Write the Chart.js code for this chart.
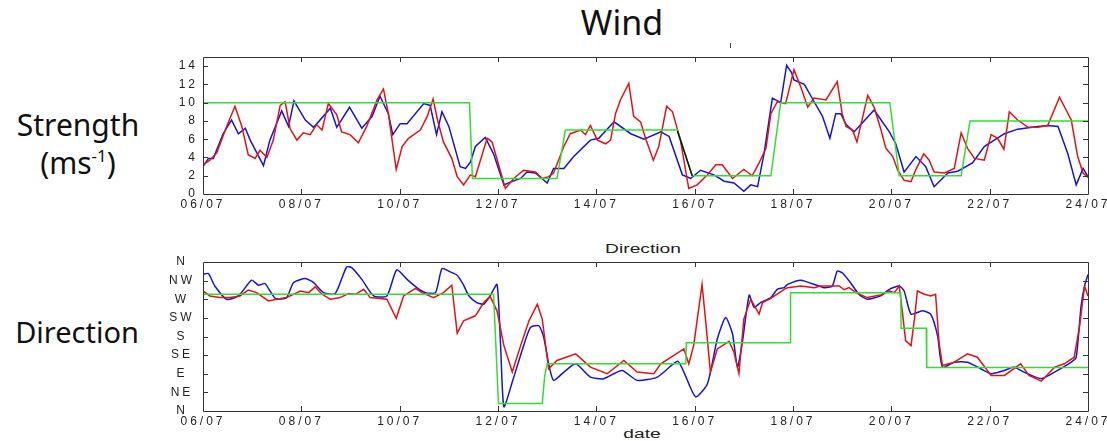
<!DOCTYPE html>
<html lang="en">
<head>
<meta charset="UTF-8">
<title>Wind</title>
<script src="https://cdn.jsdelivr.net/npm/chart.js"></script>
<style>
  body { margin: 0; width: 1107px; height: 441px; background: #fff; position: relative; overflow: hidden; font-family: "Noto Sans", sans-serif; }
  .lbl { position: absolute; line-height: 1; white-space: nowrap; color: #111; transform: translateX(-50%); }
  .small { position: absolute; line-height: 1; white-space: nowrap; font-family: "Liberation Sans", Arial, sans-serif; font-size: 12px; color: #222; transform: translateX(-50%) scaleX(1.6); }
  .sup { position: relative; top: -12px; font-size: 17px; }
  canvas { position: absolute; }
</style>
</head>
<body>
  <div class="lbl" style="left:622px; top:5px; font-size:34px;">Wind</div>
  <div style="position:absolute; left:730px; top:43px; width:1px; height:5px; background:#444;"></div>
  <div class="lbl" style="left:78px; top:110px; font-size:30px;">Strength</div>
  <div class="lbl" style="left:78px; top:148px; font-size:30px;">(ms<span class="sup">-1</span>)</div>
  <div class="lbl" style="left:77px; top:317px; font-size:29px;">Direction</div>
  <div class="small" style="left:643px; top:243px;">Direction</div>
  <div class="small" style="left:642px; top:428px;">date</div>

  <canvas id="strength" width="957" height="170" style="left:150px; top:50px;"></canvas>
  <canvas id="direction" width="957" height="206" style="left:150px; top:235px;"></canvas>

<script>
// x values are days after 06/07 00:00
const dateLabels = ['06/07', '08/07', '10/07', '12/07', '14/07', '16/07', '18/07', '20/07', '22/07', '24/07'];
const strengthTicks = [0, 2, 4, 6, 8, 10, 12, 14];
const dirLabels = ['N', 'NE', 'E', 'SE', 'S', 'SW', 'W', 'NW', 'N'];

// strength (m/s)
const strBlueDays = [0, 0.11, 0.21, 0.41, 0.58, 0.72, 0.86, 0.96, 1.23, 1.36, 1.6, 1.74, 1.85, 2.08, 2.25, 2.59, 2.72, 2.98, 3.23, 3.44, 3.6, 3.77, 3.86, 4.01, 4.15, 4.49, 4.62, 4.75, 4.86, 5.0, 5.23, 5.34, 5.44, 5.54, 5.74, 5.91, 6.12, 6.25, 6.46, 6.59, 6.76, 7.0, 7.13, 7.34, 7.54, 7.88, 8.05, 8.36, 8.7, 8.97, 9.31, 9.48, 9.75, 9.92, 10.12, 10.39, 10.6, 10.8, 11.0, 11.14, 11.28, 11.41, 11.58, 11.75, 11.87, 11.97, 12.02, 12.23, 12.43, 12.6, 12.75, 12.87, 12.97, 13.08, 13.24, 13.65, 13.96, 14.09, 14.26, 14.5, 14.7, 14.87, 15.15, 15.35, 15.65, 15.89, 16.3, 16.57, 16.98, 17.18, 17.39, 17.59, 17.76, 17.9, 18.0];
const strBlueVals = [3.0, 3.9, 3.9, 6.6, 8.1, 6.6, 7.2, 5.9, 3.1, 5.9, 9.1, 7.4, 10.2, 8.1, 7.3, 9.4, 7.3, 9.5, 7.2, 8.5, 10.7, 8.8, 6.5, 7.7, 7.7, 9.9, 9.7, 6.5, 9.0, 7.4, 3.0, 2.8, 3.5, 5.2, 6.2, 4.4, 1.0, 1.3, 1.7, 2.4, 2.3, 1.2, 2.8, 2.8, 4.1, 5.9, 6.1, 7.9, 6.6, 6.0, 6.8, 6.3, 2.1, 1.7, 2.6, 2.1, 1.4, 1.2, 0.3, 1.0, 0.8, 4.4, 10.5, 10.0, 14.1, 13.3, 12.5, 12.0, 10.1, 8.5, 6.1, 8.8, 8.8, 7.6, 6.8, 9.2, 6.8, 5.5, 2.4, 4.1, 3.0, 0.8, 2.3, 2.5, 3.4, 5.2, 6.6, 7.1, 7.4, 7.5, 7.4, 4.4, 1.0, 2.8, 1.9];

const strRedDays = [0, 0.14, 0.28, 0.48, 0.65, 0.79, 0.92, 1.06, 1.16, 1.3, 1.43, 1.57, 1.67, 1.77, 1.81, 1.91, 2.04, 2.18, 2.31, 2.42, 2.55, 2.72, 2.82, 2.99, 3.16, 3.33, 3.54, 3.67, 3.77, 3.93, 4.05, 4.18, 4.42, 4.56, 4.68, 4.77, 4.89, 5.06, 5.17, 5.3, 5.44, 5.54, 5.78, 5.88, 6.15, 6.32, 6.52, 6.76, 6.9, 7.03, 7.13, 7.34, 7.47, 7.68, 7.78, 7.88, 8.02, 8.19, 8.29, 8.39, 8.49, 8.66, 8.76, 8.9, 9.0, 9.16, 9.27, 9.43, 9.55, 9.71, 9.88, 10.05, 10.26, 10.43, 10.56, 10.77, 11.0, 11.17, 11.31, 11.45, 11.55, 11.68, 11.85, 12.02, 12.16, 12.3, 12.43, 12.67, 12.9, 13.0, 13.08, 13.21, 13.3, 13.52, 13.65, 13.79, 13.89, 14.03, 14.13, 14.26, 14.4, 14.5, 14.66, 14.77, 14.87, 15.08, 15.28, 15.42, 15.55, 15.69, 15.89, 16.03, 16.16, 16.29, 16.4, 16.57, 16.78, 16.98, 17.18, 17.42, 17.66, 17.79, 17.9, 18.0];
const strRedVals = [3.2, 3.7, 4.5, 7.4, 9.6, 7.4, 4.3, 3.9, 4.8, 4.0, 5.9, 9.7, 10.1, 7.2, 6.8, 5.9, 6.7, 6.5, 7.6, 7.0, 9.9, 8.7, 6.8, 6.5, 5.6, 7.4, 10.3, 11.5, 8.8, 2.7, 5.2, 6.1, 7.0, 8.5, 10.4, 8.1, 5.7, 3.9, 1.9, 1.0, 2.1, 1.9, 6.1, 5.7, 0.6, 1.7, 2.6, 2.4, 1.7, 1.9, 2.3, 5.2, 6.6, 7.0, 6.5, 7.5, 5.9, 5.5, 5.9, 8.8, 10.3, 12.1, 8.5, 7.9, 6.1, 3.7, 5.2, 9.6, 9.0, 5.9, 0.6, 1.0, 2.1, 3.2, 3.2, 1.7, 2.7, 2.0, 3.4, 5.0, 8.8, 10.1, 9.9, 13.6, 11.7, 9.5, 10.5, 10.3, 12.3, 8.8, 7.4, 7.0, 5.7, 10.8, 9.5, 7.0, 5.0, 4.1, 2.6, 1.5, 1.35, 2.7, 4.4, 3.7, 2.4, 2.3, 2.8, 6.7, 5.0, 3.9, 3.7, 6.5, 6.1, 4.9, 9.0, 8.1, 7.3, 7.3, 7.5, 10.6, 8.1, 4.1, 2.3, 1.8];

const strGreenDays = [0, 5.42, 5.48, 7.2, 7.37, 9.65, 9.95, 11.55, 11.75, 13.97, 14.16, 15.42, 15.6, 18];
const strGreenVals = [10, 10, 1.7, 1.7, 7.0, 7.0, 2.0, 2.0, 10, 10, 2.0, 2.0, 8.0, 8.0];

const strBlackDays = [9.65, 9.95];
const strBlackVals = [6.9, 2.0];

// direction (degrees, 0 = N)
const dirBlueDays = [0, 0.11, 0.24, 0.48, 0.72, 0.99, 1.13, 1.26, 1.47, 1.7, 1.84, 2.08, 2.25, 2.45, 2.69, 2.92, 3.03, 3.23, 3.47, 3.74, 3.94, 4.15, 4.35, 4.52, 4.73, 4.86, 5.03, 5.17, 5.23, 5.3, 5.41, 5.57, 5.71, 5.84, 5.98, 6.05, 6.12, 6.29, 6.5, 6.66, 6.83, 6.93, 7.03, 7.13, 7.34, 7.58, 7.88, 8.15, 8.52, 8.83, 9.24, 9.65, 9.78, 10.02, 10.26, 10.46, 10.63, 10.77, 10.87, 10.97, 11.11, 11.21, 11.34, 11.55, 11.68, 11.82, 11.89, 12.16, 12.63, 12.8, 12.9, 13.0, 13.17, 13.34, 13.51, 13.78, 13.96, 14.16, 14.26, 14.4, 14.63, 14.8, 14.94, 15.04, 15.28, 15.55, 15.82, 16.03, 16.3, 16.5, 16.7, 17.05, 17.32, 17.66, 17.76, 17.86, 17.93, 18.0];
const dirBlueVals = [330, 332, 302, 270, 278, 316, 304, 308, 272, 274, 310, 320, 310, 286, 284, 348, 346, 318, 278, 278, 341, 318, 298, 286, 286, 344, 336, 328, 318, 304, 278, 262, 258, 278, 306, 166, 10, 70, 150, 202, 206, 178, 114, 74, 94, 114, 82, 78, 98, 74, 82, 120, 94, 34, 66, 174, 226, 186, 106, 166, 280, 250, 262, 274, 294, 298, 306, 316, 298, 302, 338, 334, 310, 282, 270, 278, 294, 302, 290, 234, 242, 234, 182, 106, 118, 118, 102, 90, 98, 106, 94, 78, 94, 118, 130, 254, 302, 330];

const dirRedDays = [0, 0.14, 0.34, 0.55, 0.75, 0.92, 1.09, 1.33, 1.5, 1.7, 1.98, 2.15, 2.28, 2.42, 2.59, 2.79, 2.96, 3.1, 3.27, 3.4, 3.74, 3.93, 4.08, 4.32, 4.45, 4.69, 4.89, 5.06, 5.17, 5.3, 5.54, 5.71, 5.84, 5.98, 6.12, 6.29, 6.46, 6.63, 6.8, 6.9, 7.03, 7.2, 7.58, 7.88, 8.22, 8.56, 8.83, 9.17, 9.31, 9.78, 9.88, 9.98, 10.15, 10.22, 10.32, 10.46, 10.7, 10.8, 10.9, 11.0, 11.14, 11.31, 11.38, 11.55, 11.82, 11.89, 12.16, 12.43, 12.56, 12.77, 12.94, 13.04, 13.14, 13.28, 13.51, 13.78, 13.96, 14.06, 14.16, 14.23, 14.29, 14.4, 14.47, 14.53, 14.67, 14.8, 14.9, 14.97, 15.04, 15.28, 15.55, 15.75, 16.03, 16.3, 16.63, 16.8, 17.05, 17.32, 17.52, 17.72, 17.83, 17.93, 18.0];
const dirRedVals = [290, 278, 274, 274, 278, 292, 286, 266, 270, 274, 290, 286, 300, 282, 270, 274, 284, 282, 294, 274, 270, 224, 278, 296, 286, 274, 286, 304, 188, 218, 230, 262, 277, 242, 158, 94, 158, 218, 258, 222, 102, 122, 138, 106, 90, 122, 94, 90, 114, 150, 114, 158, 306, 222, 94, 150, 168, 142, 90, 222, 270, 234, 262, 272, 294, 298, 302, 298, 302, 302, 302, 293, 298, 286, 274, 280, 290, 286, 302, 234, 170, 158, 222, 290, 282, 278, 282, 166, 110, 118, 138, 130, 86, 86, 114, 86, 72, 106, 114, 130, 206, 302, 278];

const dirGreenDays = [0, 5.91, 6.01, 6.9, 6.95, 7.0, 9.82, 9.83, 11.94, 11.95, 14.19, 14.2, 14.71, 14.72, 18];
const dirGreenVals = [282, 282, 18, 18, 85, 114, 114, 165, 165, 286, 286, 200, 200, 105, 105];

function pts(days, vals) {
  return days.map((d, i) => ({ x: d, y: vals[i] }));
}

const tickFont = { family: '"Liberation Sans", Arial, sans-serif', size: 12 };
const tickColor = '#222';
const noGrid = { display: false, drawTicks: false, tickLength: 0 };

// widen tick text a little, like the stretched original
const spacing = {
  id: 'spacing',
  beforeDraw(chart) { chart.ctx.letterSpacing = '3px'; }
};

// box round the plot with inward ticks on all four sides
const frameTicks = {
  id: 'frameTicks',
  afterDatasetsDraw(chart) {
    const ctx = chart.ctx;
    const a = chart.chartArea;
    const xs = chart.scales.x, ys = chart.scales.y;
    ctx.save();
    ctx.strokeStyle = '#333';
    ctx.lineWidth = 1;
    ctx.beginPath();
    xs.ticks.forEach(t => {
      const px = Math.round(xs.getPixelForValue(t.value)) + 0.5;
      if (px <= a.left + 2 || px >= a.right - 2) return;
      ctx.moveTo(px, a.bottom); ctx.lineTo(px, a.bottom - 5);
      ctx.moveTo(px, a.top); ctx.lineTo(px, a.top + 5);
    });
    ys.ticks.forEach(t => {
      const py = Math.round(ys.getPixelForValue(t.value)) + 0.5;
      if (py <= a.top + 2 || py >= a.bottom - 2) return;
      ctx.moveTo(a.left, py); ctx.lineTo(a.left + 5, py);
      ctx.moveTo(a.right, py); ctx.lineTo(a.right - 5, py);
    });
    ctx.rect(Math.round(a.left) + 0.5, Math.round(a.top) + 0.5, Math.round(a.right - a.left), Math.round(a.bottom - a.top));
    ctx.stroke();
    ctx.restore();
  }
};

function line(data, color, width, tension) {
  return { data: data, borderColor: color, borderWidth: width, pointRadius: 0, tension: tension || 0, fill: false };
}

function xAxis(height) {
  return {
    type: 'linear', min: 0, max: 18,
    grid: noGrid, border: { display: false },
    ticks: { stepSize: 2, autoSkip: false, maxRotation: 0, padding: 3, font: tickFont, color: tickColor,
             callback: v => dateLabels[v / 2] },
    afterFit: s => { s.height = height; s.paddingLeft = 0; s.paddingRight = 0; }
  };
}

new Chart(document.getElementById('strength'), {
  type: 'line',
  data: {
    datasets: [
      line(pts(strBlackDays, strBlackVals), '#111111', 1.5),
      line(pts(strGreenDays, strGreenVals), '#33dd33', 1.5),
      line(pts(strRedDays, strRedVals), '#e01414', 1.5),
      line(pts(strBlueDays, strBlueVals), '#1414d2', 1.5)
    ]
  },
  options: {
    responsive: false, animation: false,
    layout: { padding: { top: 7, right: 19, left: 0, bottom: 0 } },
    plugins: { legend: { display: false }, tooltip: { enabled: false } },
    scales: {
      x: xAxis(26),
      y: {
        min: 0, max: 15,
        grid: noGrid, border: { display: false },
        ticks: { padding: 5, font: tickFont, color: tickColor },
        afterBuildTicks: s => { s.ticks = strengthTicks.map(v => ({ value: v })); },
        afterFit: s => { s.width = 53; s.paddingTop = 0; s.paddingBottom = 0; }
      }
    }
  },
  plugins: [spacing, frameTicks]
});

new Chart(document.getElementById('direction'), {
  type: 'line',
  data: {
    datasets: [
      line(pts(dirGreenDays, dirGreenVals), '#33dd33', 1.5),
      line(pts(dirRedDays, dirRedVals), '#e01414', 1.5),
      line(pts(dirBlueDays, dirBlueVals), '#1414d2', 1.5, 0.2)
    ]
  },
  options: {
    responsive: false, animation: false,
    layout: { padding: { top: 27, right: 19, left: 0, bottom: 0 } },
    plugins: { legend: { display: false }, tooltip: { enabled: false } },
    scales: {
      x: xAxis(30),
      y: {
        min: 0, max: 360,
        grid: noGrid, border: { display: false },
        ticks: { stepSize: 45, padding: 11, crossAlign: 'center', font: tickFont, color: tickColor,
                 callback: v => dirLabels[v / 45] },
        afterFit: s => { s.width = 53; s.paddingTop = 0; s.paddingBottom = 0; }
      }
    }
  },
  plugins: [spacing, frameTicks]
});
</script>
</body>
</html>
